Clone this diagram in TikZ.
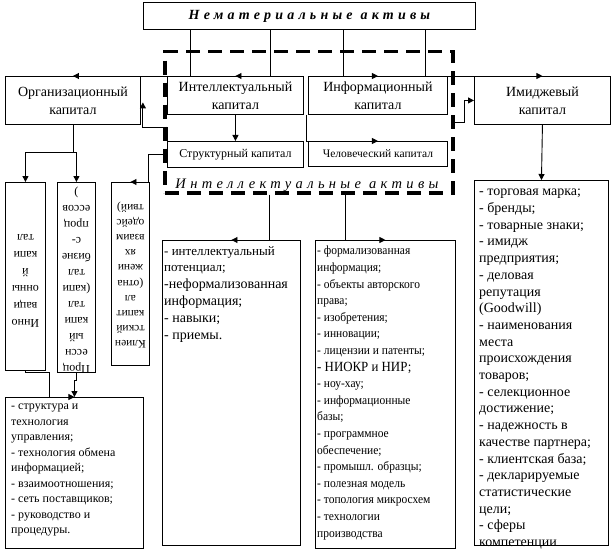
\documentclass[tikz,border=0pt]{standalone}
\usepackage{fontspec}
\setmainfont{Liberation Serif}
\newfontfamily\spacedbi[LetterSpace=30]{Liberation Serif}
\newfontfamily\narrowf[FakeStretch=0.92]{Liberation Serif}
\usetikzlibrary{arrows.meta,calc}
\begin{document}
\begin{tikzpicture}[x=1pt,y=-1pt,
  box/.style={draw, line width=0.9pt, anchor=north west, inner sep=0pt},
  arr/.style={line width=0.9pt, -{Triangle[length=6pt,width=6pt]}},
  lst/.style={anchor=north west, align=left, inner sep=0pt},
  ctr/.style={align=center, inner sep=0pt},
]
\useasboundingbox (0,0) rectangle (612,556);
% top
\node[box, minimum width=332pt, minimum height=27pt] (top) at (143,2) {};
\node[ctr, font=\spacedbi\bfseries\itshape\fontsize{14}{16}\selectfont] (toptxt) at (top.center) {Нематериальные\hspace{8pt}активы};
% row 2
\node[box, minimum width=135pt, minimum height=48pt] (org) at (5,76) {};
\node[ctr, font=\fontsize{14}{18}\selectfont] (orgt) at (org.center) {Организационный\\капитал};
\node[box, minimum width=136pt, minimum height=38pt] (intel) at (167,76) {};
\node[ctr, font=\fontsize{14}{18}\selectfont] (intelt) at (intel.center) {Интеллектуальный\\капитал};
\node[box, minimum width=139pt, minimum height=38pt] (info) at (308,76) {};
\node[ctr, font=\fontsize{14}{18}\selectfont] (infot) at (info.center) {Информационный\\капитал};
\node[box, minimum width=136pt, minimum height=48pt] (img) at (474,76) {};
\node[ctr, font=\fontsize{14}{18}\selectfont] (imgt) at (img.center) {Имиджевый\\капитал};
\node[box, minimum width=136pt, minimum height=26pt] (struct) at (167,141) {};
\node[ctr, font=\fontsize{12}{14}\selectfont] (structt) at (struct.center) {Структурный капитал};
\node[box, minimum width=139pt, minimum height=25pt] (human) at (308,141) {};
\node[ctr, font=\fontsize{11.5}{14}\selectfont] (humant) at (human.center) {Человеческий капитал};
% dashed region
\node[box, dash pattern=on 14pt off 8pt, line width=3.5pt, minimum width=288pt, minimum height=141pt] (ia) at (163,50) {};
\node[ctr, font=\spacedbi\itshape\fontsize{14.5}{16}\selectfont] (iat) at (307,185) {Интеллектуальные\hspace{8pt}активы};
% rotated boxes
\node[box, minimum width=40pt, minimum height=188pt] (b1) at (5,182) {};
\node[ctr, rotate=180, font=\fontsize{12}{17}\selectfont] (b1t) at ([yshift=-4pt]b1.center) {Инно\\ваци\\онны\\й\\капи\\тал};
\node[box, minimum width=38pt, minimum height=190pt] (b2) at (57,182) {};
\node[ctr, rotate=180, font=\fontsize{12}{16}\selectfont] (b2t) at ([yshift=-3pt]b2.center) {Проц\\ессн\\ый\\капи\\тал\\(капи\\тал\\бизне\\с-\\проц\\ессов\\)};
\node[box, minimum width=38pt, minimum height=183pt] (b3) at (111,182) {};
\node[ctr, rotate=180, font=\fontsize{11.5}{15.2}\selectfont] (b3t) at ([yshift=-1pt]b3.center) {Клиен\\тский\\капит\\ал\\(отна\\жени\\ях\\взаим\\одейс\\твий)};
% lists
\node[box, minimum width=138pt, minimum height=151pt] (bl) at (5,397) {};
\node[lst, font=\fontsize{12}{15.5}\selectfont] (blt) at (11,404) {- структура и\\технология\\управления;\\- технология обмена\\информацией;\\- взаимоотношения;\\- сеть поставщиков;\\- руководство и\\процедуры.};
\node[box, minimum width=138pt, minimum height=305pt] (m1) at (162,240) {};
\node[lst, font=\fontsize{14}{16.8}\selectfont] (m1t) at (164,246) {{\fontsize{13}{16.8}\selectfont - интеллектуальный}\\{\fontsize{13}{16.8}\selectfont потенциал;}\\-неформализованная\\информация;\\- навыки;\\- приемы.};
\node[box, minimum width=140pt, minimum height=308pt] (m2) at (315,240) {};
\node[lst, font=\narrowf\fontsize{12.5}{16.6}\selectfont] (m2t) at (317,246) {- формализованная\\информация;\\- объекты авторского\\права;\\- изобретения;\\- инновации;\\- лицензии и патенты;\\{\fontsize{14}{16.6}\selectfont - НИОКР и НИР;}\\- ноу-хау;\\- информационные\\базы;\\- программное\\обеспечение;\\- промышл. образцы;\\- полезная модель\\- топология микросхем\\- технологии\\производства};
\node[box, minimum width=134pt, minimum height=365pt] (rb) at (474,180) {};
\node[lst, font=\fontsize{14}{16.7}\selectfont] (rbt) at (479,189) {- торговая марка;\\- бренды;\\- товарные знаки;\\- имидж\\предприятия;\\- деловая\\репутация\\(Goodwill)\\- наименования\\места\\происхождения\\товаров;\\- селекционное\\достижение;\\- надежность в\\качестве партнера;\\- клиентская база;\\- декларируемые\\статистические\\цели;\\- сферы\\компетенции};
% connectors
\draw[arr] ([xshift=47pt]top.south west) |- (org.north);
\draw[arr] ([xshift=127pt]top.south west) |- (intel.north);
\draw[arr] ([xshift=200pt]top.south west) |- (info.north);
\draw[arr] ([xshift=282pt]top.south west) |- (img.north);
\draw[arr] (org.south) -- ++(0,28) -| (b1.north);
\draw[arr] (org.south) -- ++(0,28) -| (b2.north);
\draw[arr] (intel.south) -- (struct.north);
\draw[arr] ([xshift=-2pt]info.south west) |- (human.north);
\draw[arr] (struct.north west) -- ++(0,-14) -| ([xshift=2pt,yshift=-2pt]org.east);
\draw[arr] (struct.west) -- ++(-19,0) |- (b3.north);
\draw[arr] (ia.east) -- ++(10,0) |- (img.west);
\draw[arr] (b1.south) -- ++(0,2) -| ([xshift=-25pt]bl.north) -- (bl.north);
\draw[arr] (b2.south) -- ++(0,8) -| (bl.north);
\draw[arr] ([xshift=106pt]ia.south west) |- (m1.north);
\draw[arr] ([xshift=182pt]ia.south west) |- (m2.north);
\draw[arr] (img.south) -- (rb.north);
\end{tikzpicture}
\end{document}
